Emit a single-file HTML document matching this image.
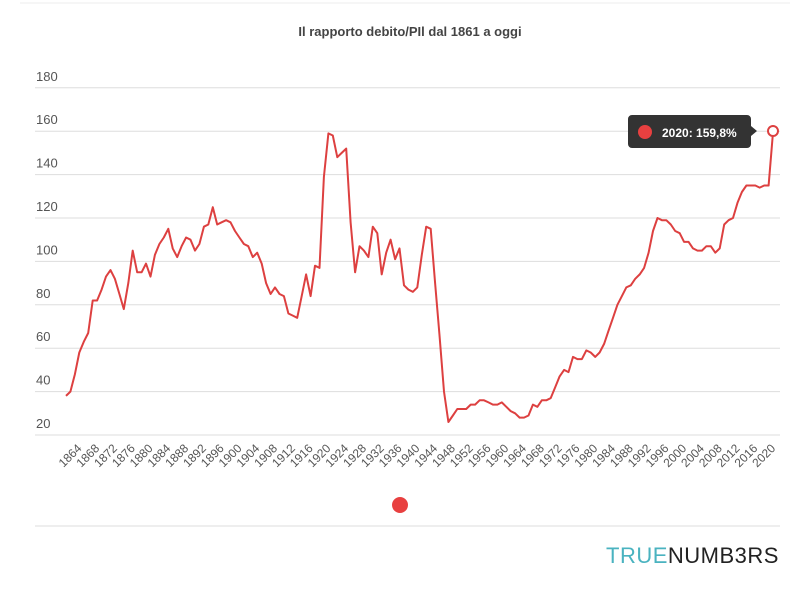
<!DOCTYPE html>
<html><head><meta charset="utf-8"><style>
body{margin:0;background:#fff;width:808px;height:589px;overflow:hidden;font-family:"Liberation Sans",sans-serif}
</style></head><body>
<svg id="s" width="808" height="589" xmlns="http://www.w3.org/2000/svg" font-family="Liberation Sans, sans-serif">
<line x1="20" y1="3" x2="790" y2="3" stroke="#eee"/>
<text x="410" y="36" text-anchor="middle" font-size="13" font-weight="bold" fill="#444">Il rapporto debito/PIl dal 1861 a oggi</text>
<g id="grid"></g>
<polyline id="ln" fill="none" stroke="#dd4040" stroke-width="2" stroke-linejoin="round"/>
<circle cx="773" cy="131" r="5" fill="#fff" stroke="#dd4040" stroke-width="2"/>
<path d="M632 115 H747 a4 4 0 0 1 4 4 V126 L757 131 L751 136 V144 a4 4 0 0 1 -4 4 H632 a4 4 0 0 1 -4 -4 V119 a4 4 0 0 1 4 -4Z" fill="#333"/>
<circle cx="645" cy="132" r="7" fill="#e84040"/>
<text x="662" y="137" font-size="12" font-weight="bold" fill="#fff">2020: 159,8%</text>
<circle cx="400" cy="505" r="8" fill="#e84040"/>
<line x1="35" y1="526" x2="780" y2="526" stroke="#ddd"/>
<text x="606" y="563" font-size="22" letter-spacing="0.5"><tspan fill="#4ab3c0">TRUE</tspan><tspan fill="#222">NUMB3RS</tspan></text>
</svg>
<script>
var d=[38,40,48,58,63,67,82,82,87,93,96,92,85,78,90,105,95,95,99,93,103,108,111,115,106,102,107,111,110,105,108,116,117,125,117,118,119,118,114,111,108,107,102,104,99,90,85,88,85,84,76,75,74,84,94,84,98,97,139,159,158,148,150,152,118,95,107,105,102,116,113,94,104,110,101,106,89,87,86,88,103,116,115,90,66,40,26,29,32,32,32,34,34,36,36,35,34,34,35,33,31,30,28,28,29,34,33,36,36,37,42,47,50,49,56,55,55,59,58,56,58,62,68,74,80,84,88,89,92,94,97,104,114,120,119,119,117,114,113,109,109,106,105,105,107,107,104,106,117,119,120,127,132,135,135,135,134,135,135,160];
function X(y){return 66+(y-1861)*4.447}function Y(v){return 435-(v-20)*2.17}
var p=d.map(function(v,i){return X(1861+i).toFixed(1)+","+Y(v).toFixed(1)}).join(" ");
document.getElementById("ln").setAttribute("points",p);
var g="";for(var v=20;v<=180;v+=20){var y=Y(v);g+='<line x1="35" y1="'+y+'" x2="780" y2="'+y+'" stroke="#ddd"/><text x="36" y="'+(y-7)+'" font-size="13" fill="#555">'+v+'</text>';}
for(var yr=1864;yr<=2020;yr+=4){var x=X(yr)+3;g+='<text x="'+x+'" y="449" font-size="12" fill="#555" text-anchor="end" transform="rotate(-45 '+x+' 449)">'+yr+'</text>';}
document.getElementById("grid").innerHTML=g;
</script>
</body></html>
